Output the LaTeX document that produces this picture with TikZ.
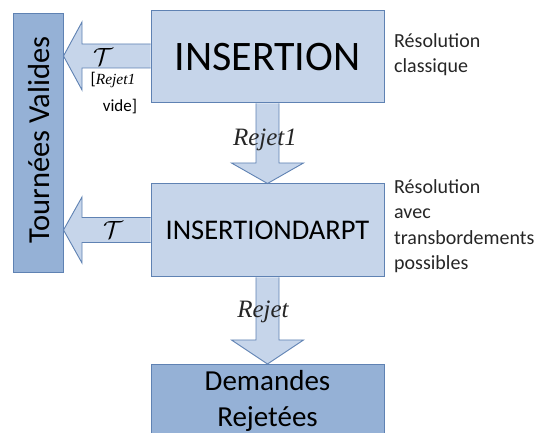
\documentclass[tikz,border=0pt]{standalone}
\usepackage{fontspec}
\setmainfont{Carlito}
\newfontfamily\scr{Liberation Serif}
\usetikzlibrary{calc}
\definecolor{lightfill}{HTML}{C6D5EA}
\definecolor{darkfill}{HTML}{95B1D6}
\definecolor{bordercol}{HTML}{5F82B3}
\tikzset{
  box/.style={draw=bordercol, line width=1pt, inner sep=0pt, align=center, minimum width=233pt},
  lightbox/.style={box, fill=lightfill},
  darkbox/.style={box, fill=darkfill},
  blockarrow/.style={draw=bordercol, line width=0.9pt, fill=lightfill, line join=miter},
  side/.style={align=left, anchor=north west, inner sep=0pt, font=\fontsize{20}{25.5}\selectfont, text=black!85},
  lab/.style={inner sep=0pt, font=\scr\itshape\fontsize{25}{26}\selectfont, text=black!85}
}
\begin{document}
\begin{tikzpicture}[x=1pt,y=-1pt]
\useasboundingbox (0,0) rectangle (542,433);
\clip (0,0) rectangle (542,433);
\fill[white] (0,0) rectangle (542,433);
% boxes
\node[darkbox, minimum width=50pt, minimum height=259pt] (tv) at (38,143.5) {};
\node[rotate=90, font=\fontsize{30.5}{32}\selectfont] (tvtext) at (39,140) {Tournées Valides};
\node[lightbox, minimum height=92pt, font=\fontsize{42}{44}\selectfont] (ins) at (267.5,57) {INSERTION};
\node[lightbox, minimum height=93pt, font=\fontsize{28.5}{30}\selectfont] (dar) at (267.5,230.5) {INSERTIONDARPT};
\node[darkbox, minimum height=80pt, anchor=north] (rej) at (267.5,364) {};
\node[font=\fontsize{29}{36}\selectfont, align=center] (rejtext) at (267.5,401) {Demandes\\Rejetées};
% left arrows
\draw[blockarrow] (ins.west |- 0,44) -- (82,44) -- (82,22) -- (tv.east |- 0,56) -- (82,90) -- (82,68) -- (ins.west |- 0,68);
\draw[blockarrow] (dar.west |- 0,217.5) -- (82,217.5) -- (82,197) -- (tv.east |- 0,230) -- (82,263) -- (82,242.5) -- (dar.west |- 0,242.5);
% down arrows
\draw[blockarrow] (256,0 |- ins.south) -- (256,163) -- (231.5,163) -- (267.5,0 |- dar.north) -- (303.5,163) -- (279,163) -- (279,0 |- ins.south);
\draw[blockarrow] (256,0 |- dar.south) -- (256,340) -- (231.5,340) -- (267.5,0 |- rej.north) -- (303.5,340) -- (279,340) -- (279,0 |- dar.south);
% labels
\node[font=\fontsize{25}{25}\selectfont] (t1) at (103,57) {$\mathcal{T}$};
\node[inner sep=0pt, font=\fontsize{17}{20}\selectfont] (r1a) at (113,80) {[{\scr\itshape\fontsize{15.5}{18}\selectfont Rejet1}};
\node[inner sep=0pt, font=\fontsize{17}{20}\selectfont] (r1b) at (120,107) {vide]};
\node[font=\fontsize{25}{25}\selectfont] (t2) at (113,230) {$\mathcal{T}$};
\node[lab] (l1) at (265,140) {Rejet1};
\node[lab] (l2) at (263,312) {Rejet};
% side notes
\node[side] (s1) at (394,33) {Résolution\\classique};
\node[side] (s2) at (394,179) {Résolution\\avec\\transbordements\\possibles};
\end{tikzpicture}
\end{document}
